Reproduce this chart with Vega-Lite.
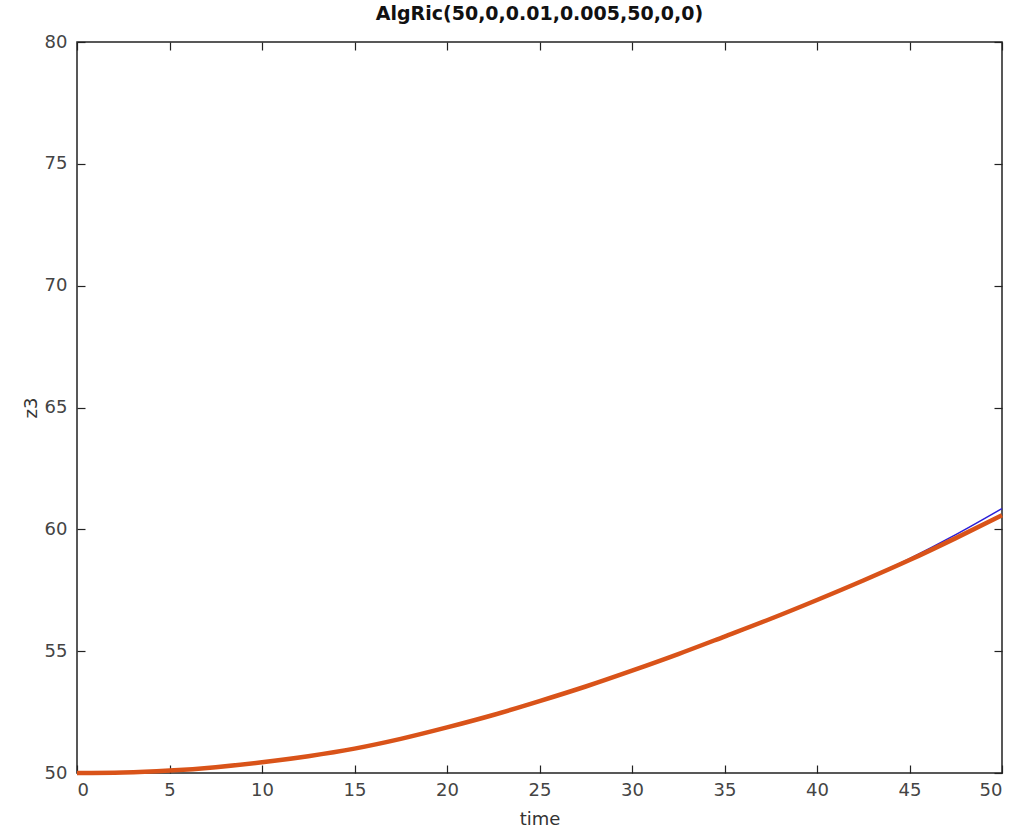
{
  "$schema": "https://vega.github.io/schema/vega-lite/v6.json",
  "width": 925,
  "height": 731,
  "autosize": "none",
  "padding": {"left": 77, "top": 42, "right": 19, "bottom": 63},
  "background": "white",
  "title": {"text": "AlgRic(50,0,0.01,0.005,50,0,0)", "font": "DejaVu Sans", "fontSize": 19, "fontWeight": "bold", "color": "#111", "offset": 9},
  "config": {
    "view": {"stroke": "#222", "strokeWidth": 1.5},
    "axis": {"labelFont": "DejaVu Sans", "titleFont": "DejaVu Sans", "labelFontSize": 18, "titleFontSize": 18, "labelColor": "#444", "titleColor": "#333", "titleFontWeight": "normal", "grid": false, "domain": false, "tickColor": "#222", "tickSize": -8, "tickWidth": 1.2}
  },
  "data": {"values": [
    {"t": 0, "z": 50.00, "s": "b"}, {"t": 2.5, "z": 50.02, "s": "b"}, {"t": 5, "z": 50.10, "s": "b"}, {"t": 7.5, "z": 50.24, "s": "b"}, {"t": 10, "z": 50.44, "s": "b"}, {"t": 12.5, "z": 50.69, "s": "b"}, {"t": 15, "z": 51.00, "s": "b"}, {"t": 17.5, "z": 51.40, "s": "b"}, {"t": 20, "z": 51.87, "s": "b"}, {"t": 22.5, "z": 52.38, "s": "b"}, {"t": 25, "z": 52.95, "s": "b"}, {"t": 27.5, "z": 53.55, "s": "b"}, {"t": 30, "z": 54.20, "s": "b"}, {"t": 32.5, "z": 54.88, "s": "b"}, {"t": 35, "z": 55.60, "s": "b"}, {"t": 37.5, "z": 56.33, "s": "b"}, {"t": 40, "z": 57.10, "s": "b"}, {"t": 42.5, "z": 57.92, "s": "b"}, {"t": 45, "z": 58.80, "s": "b"}, {"t": 47.5, "z": 59.78, "s": "b"}, {"t": 50, "z": 60.85, "s": "b"},
    {"t": 0, "z": 50.00, "s": "o"}, {"t": 2.5, "z": 50.02, "s": "o"}, {"t": 5, "z": 50.10, "s": "o"}, {"t": 7.5, "z": 50.24, "s": "o"}, {"t": 10, "z": 50.44, "s": "o"}, {"t": 12.5, "z": 50.69, "s": "o"}, {"t": 15, "z": 51.00, "s": "o"}, {"t": 17.5, "z": 51.40, "s": "o"}, {"t": 20, "z": 51.87, "s": "o"}, {"t": 22.5, "z": 52.38, "s": "o"}, {"t": 25, "z": 52.95, "s": "o"}, {"t": 27.5, "z": 53.55, "s": "o"}, {"t": 30, "z": 54.20, "s": "o"}, {"t": 32.5, "z": 54.88, "s": "o"}, {"t": 35, "z": 55.60, "s": "o"}, {"t": 37.5, "z": 56.33, "s": "o"}, {"t": 40, "z": 57.10, "s": "o"}, {"t": 42.5, "z": 57.90, "s": "o"}, {"t": 45, "z": 58.74, "s": "o"}, {"t": 47.5, "z": 59.64, "s": "o"}, {"t": 50, "z": 60.58, "s": "o"}
  ]},
  "layer": [
    {
      "transform": [{"filter": "datum.s === 'b'"}],
      "mark": {"type": "line", "color": "#2a1fd8", "strokeWidth": 1.5, "interpolate": "monotone"},
      "encoding": {
        "x": {"field": "t", "type": "quantitative", "scale": {"domain": [0, 50], "nice": false}, "axis": {"title": "time", "values": [0,5,10,15,20,25,30,35,40,45,50], "labelPadding": 16, "titlePadding": 11}},
        "y": {"field": "z", "type": "quantitative", "scale": {"domain": [50, 80], "nice": false, "zero": false}, "axis": {"title": "z3", "values": [50,55,60,65,70,75,80], "labelPadding": 18, "titlePadding": 4}}
      }
    },
    {
      "transform": [{"filter": "datum.s === 'o'"}],
      "mark": {"type": "line", "color": "#d95319", "strokeWidth": 4.5, "interpolate": "monotone"},
      "encoding": {
        "x": {"field": "t", "type": "quantitative", "axis": null},
        "y": {"field": "z", "type": "quantitative", "axis": null}
      }
    },
    {
      "transform": [{"filter": "datum.s === 'o'"}],
      "mark": {"type": "line", "opacity": 0},
      "encoding": {
        "x": {"field": "t", "type": "quantitative", "axis": {"orient": "top", "title": null, "labels": false, "values": [0,5,10,15,20,25,30,35,40,45,50]}},
        "y": {"field": "z", "type": "quantitative", "axis": {"orient": "right", "title": null, "labels": false, "values": [50,55,60,65,70,75,80]}}
      }
    }
  ],
  "resolve": {"axis": {"x": "independent", "y": "independent"}}
}
